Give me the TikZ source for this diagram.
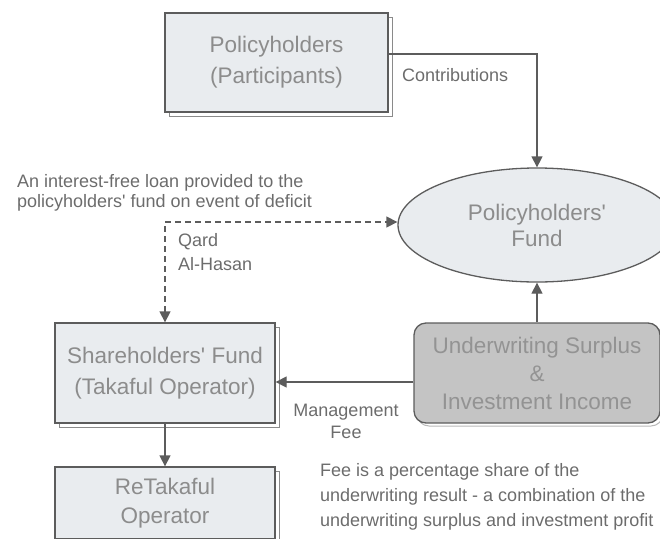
\documentclass[tikz,border=0pt]{standalone}
\usepackage{fontspec}
\newfontfamily\arial{Liberation Sans}[Ligatures=TeXOff]
\usetikzlibrary{arrows.meta,shadows,shapes.geometric}
\definecolor{boxfill}{HTML}{E9ECEF}
\definecolor{boxtext}{HTML}{8C8C8C}
\definecolor{lbltext}{HTML}{6C6C6C}
\definecolor{linegray}{HTML}{5C5C5C}
\definecolor{ufill}{HTML}{C4C4C4}
\definecolor{utext}{HTML}{939393}
\definecolor{shadowgray}{HTML}{8A8A8A}
\tikzset{
  boxbase/.style={draw=linegray, line width=1.3pt, inner sep=0pt, align=center,
    text=boxtext, font=\arial\fontsize{22.5}{31}\selectfont},
  plainbox/.style={boxbase, rectangle, fill=boxfill,
    copy shadow={shadow xshift=4pt, shadow yshift=-4pt, fill=white, draw=shadowgray, line width=1pt}},
  uwbox/.style={boxbase, rectangle, rounded corners=12pt, fill=ufill, text=utext,
    font=\arial\fontsize{22.5}{28}\selectfont,
    copy shadow={shadow xshift=3pt, shadow yshift=-3pt, fill=white, draw=shadowgray!60, line width=1pt}},
  fundshape/.style={boxbase, ellipse, fill=boxfill, font=\arial\fontsize{22.5}{26}\selectfont},
  lbl/.style={inner sep=0pt, text=lbltext, font=\arial\fontsize{18}{20}\selectfont},
  conn/.style={draw=linegray, line width=1.3pt, -{Triangle[length=11pt,width=11pt]}},
}
\begin{document}
\begin{tikzpicture}[x=1pt,y=-1pt]
\useasboundingbox (0,0) rectangle (660,538);
\clip (0,0) rectangle (660,538);

\node[plainbox, minimum width=223pt, minimum height=99pt] (ph) at (276.5,62.5) {Policyholders\\(Participants)};
\node[fundshape, minimum width=278pt, minimum height=114pt] (fund) at (537,225) {Policyholders'\\Fund};
\node[plainbox, minimum width=220pt, minimum height=100pt] (sh) at (165,373) {Shareholders' Fund\\(Takaful Operator)};
\node[uwbox, minimum width=246pt, minimum height=100pt] (uw) at (537,373) {Underwriting Surplus\\\&\\Investment Income};
\node[plainbox, minimum width=220pt, minimum height=72pt, font=\arial\fontsize{22.5}{29}\selectfont] (rt) at (165,503) {ReTakaful\\Operator};

\node[lbl, anchor=west] (contrib) at (402,75) {Contributions};
\node[lbl, align=center, font=\arial\fontsize{18}{22}\selectfont] (mgmt) at (346,421) {Management\\Fee};
\node[lbl, align=left, anchor=west] (loan) at (17,193) {An interest-free loan provided to the\\policyholders' fund on event of deficit};
\node[lbl, align=left, anchor=west, font=\arial\fontsize{18}{24}\selectfont] (qard) at (178,252) {Qard\\Al-Hasan};
\node[lbl, align=left, anchor=west, font=\arial\fontsize{18}{25}\selectfont] (feenote) at (320,497) {Fee is a percentage share of the\\underwriting result - a combination of the\\underwriting surplus and investment profit};

\draw[conn] ([yshift=8.5pt]ph.east) -| (fund.north);
\draw[conn, {Triangle[length=11pt,width=11pt]}-{Triangle[length=11pt,width=11pt]}, dash pattern=on 6pt off 4pt]
  (sh.north) |- ([yshift=3pt]fund.west);
\draw[conn] (uw.north) -- (fund.south);
\draw[conn] ([yshift=-9pt]uw.west) -- ([yshift=-9pt]sh.east);
\draw[conn] (sh.south) -- (rt.north);
\end{tikzpicture}
\end{document}
